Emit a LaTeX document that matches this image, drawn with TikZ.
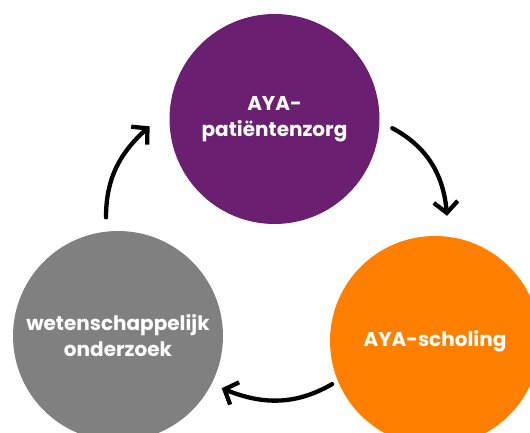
\documentclass[tikz,border=0pt]{standalone}
\usepackage{fontspec}
\setmainfont{Poppins}
\usetikzlibrary{arrows.meta}
\usetikzlibrary{calc}

\definecolor{ayapurple}{RGB}{106,31,113}
\definecolor{ayaorange}{RGB}{255,128,0}
\definecolor{ayagray}{RGB}{128,128,128}

\begin{document}
\begin{tikzpicture}[x=1pt, y=1pt,
        circle_style/.style={circle, minimum size=210pt, inner sep=0pt, text=white, align=center,
            font=\fontsize{20}{26}\selectfont\bfseries},
        cycle_arrow/.style={draw=black, line width=4.3pt, line cap=round,
            -{Straight Barb[length=11pt, width=24pt, line width=4.3pt]}}]

        \useasboundingbox (0,0) rectangle (530,433);

        \node [circle_style, fill=ayapurple](n1) at (274.5,314) {AYA-\\patiëntenzorg};

        \node [circle_style, fill=ayaorange](n2) at (435,92) {AYA-scholing};

        \node [circle_style, fill=ayagray](n3) at (118,97) {wetenschappelijk\\onderzoek};

        \draw [cycle_arrow] ([xshift=13pt]n1.-5) to[out=-28, in=95] ([xshift=12pt, yshift=20pt]n2.north);

        \draw [cycle_arrow] ([xshift=-6pt, yshift=-2pt]n2.203) to[out=210, in=-22] ([xshift=10pt, yshift=-4.5pt]n3.-27);

        \draw [cycle_arrow] ([xshift=-1pt, yshift=14pt]n3.96) to[out=90, in=222] ([xshift=-20pt]n1.184);

\end{tikzpicture}
\end{document}
